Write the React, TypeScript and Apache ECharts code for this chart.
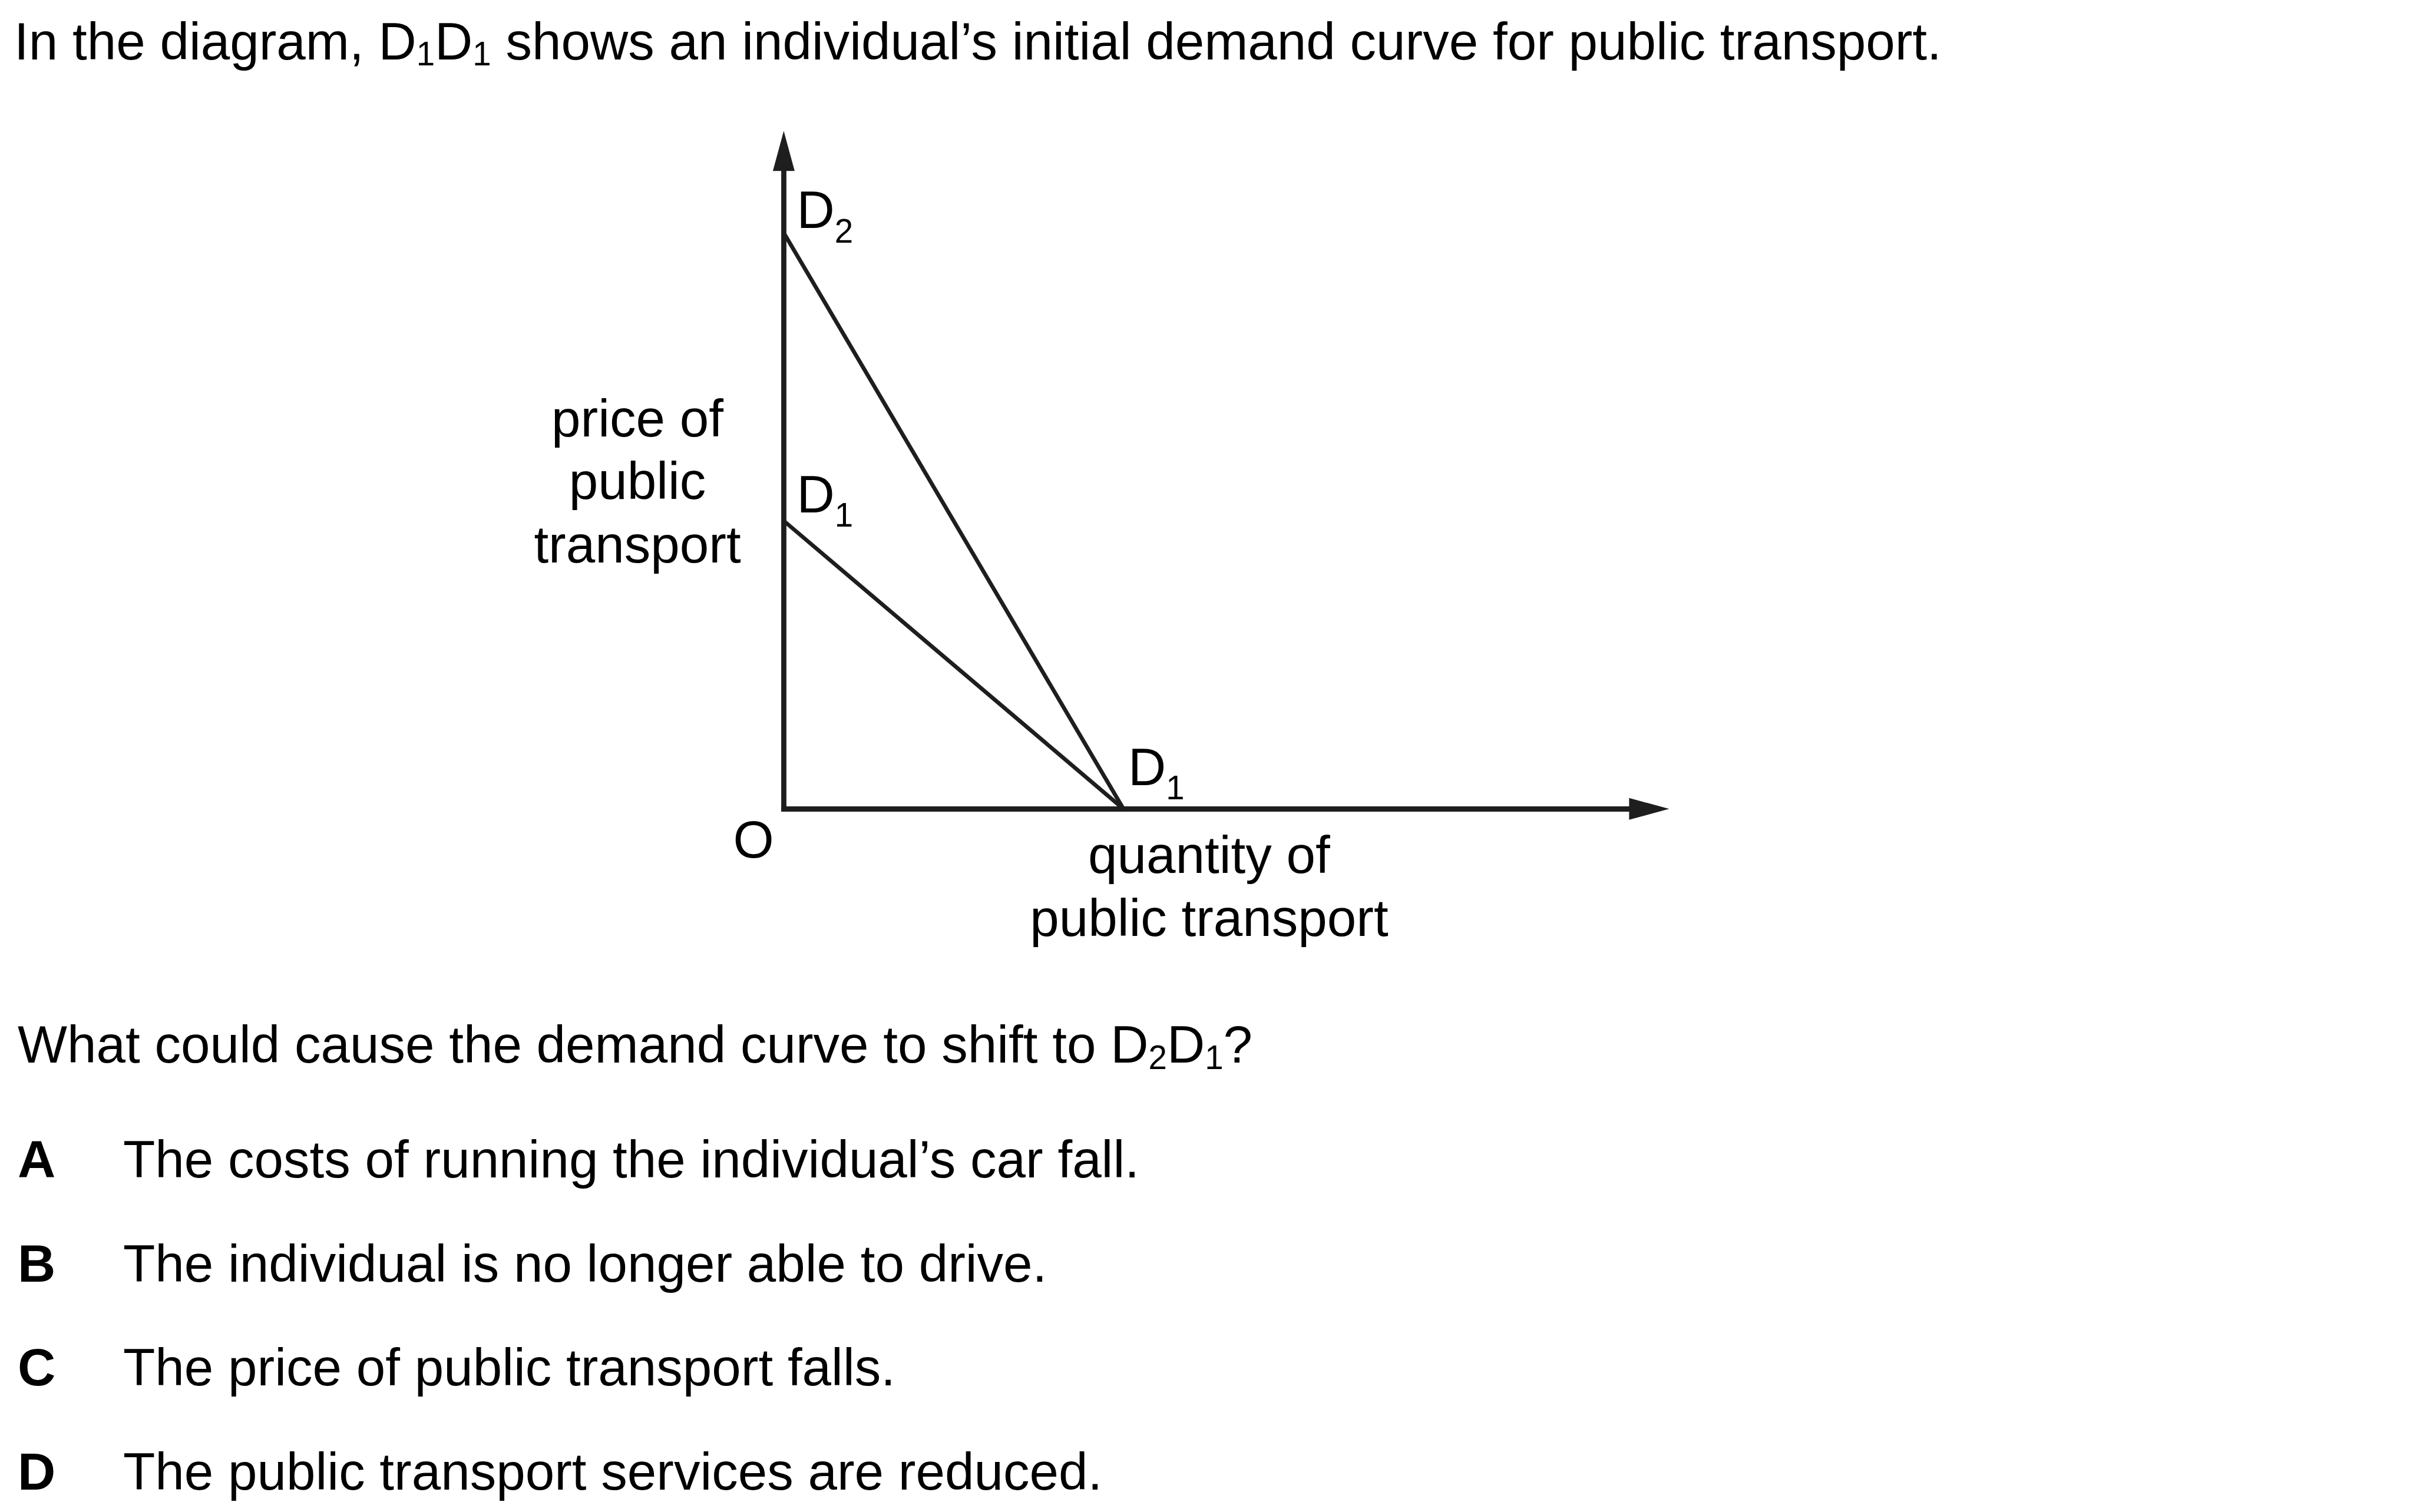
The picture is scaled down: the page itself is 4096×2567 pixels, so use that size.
import React, { useEffect, useRef } from "react";
import * as echarts from "echarts";

// ---- data ----
const d1Quantities = [0, 4];
const d1Prices = [5, 0];
const d2Quantities = [0, 4];
const d2Prices = [10, 0];
const xAxisMax = 10.19;
const yAxisMax = 11.42;

const titleParts = ["In the diagram, D", "1", "D", "1", " shows an individual\u2019s initial demand curve for public transport."];
const questionParts = ["What could cause the demand curve to shift to D", "2", "D", "1", "?"];
const optionLetters = ["A", "B", "C", "D"];
const optionTexts = [
  "The costs of running the individual\u2019s car fall.",
  "The individual is no longer able to drive.",
  "The price of public transport falls.",
  "The public transport services are reduced.",
];
const yAxisNameLines = ["price of", "public", "transport"];
const xAxisNameLines = ["quantity of", "public transport"];
const originLabel = "O";
const curveLabelMain = ["D", "D", "D"];
const curveLabelSub = ["2", "1", "1"];
const curveLabelAnchor = [
  [0, 10],
  [0, 5],
  [4, 0],
];

// ---- layout / style (scaled 0.975) ----
const W = 4096;
const H = 2567;
const FONT = "'Liberation Sans', Arial, Helvetica, sans-serif";
const F = 89;
const SF = 56.5;
const ASC = 0.3465;
const INK = "#000";
const LINE = "#1e1e1e";
const curveLabelOffset = [
  [22, -8],
  [22, -14.6],
  [8, -40.5],
];

function plainText(x: number, baseline: number, text: string, align = "left", weight = "normal") {
  return {
    type: "text",
    x,
    y: baseline - ASC * F,
    silent: true,
    style: {
      text,
      font: `${weight} ${F}px ${FONT}`,
      fill: INK,
      align,
      verticalAlign: "middle",
    },
  };
}

// subscript centre sits `drop` px below the main glyph centre
function richText(x: number, baseline: number, parts: string[], kind: "inline" | "label") {
  const centreGap = kind === "inline" ? 21.9 : 35.6;
  const padTop = F / 2 + centreGap - SF / 2;
  const text = parts.map((p, i) => (i % 2 === 0 ? `{n|${p}}` : `{s|${p}}`)).join("");
  return {
    type: "text",
    x,
    y: baseline - (F / 2 + ASC * F),
    silent: true,
    style: {
      text,
      align: "left",
      verticalAlign: "top",
      fill: INK,
      font: `${F}px ${FONT}`,
      rich: {
        n: { fontSize: F, fontFamily: FONT, lineHeight: F, verticalAlign: "top", fill: INK },
        s: {
          fontSize: SF,
          fontFamily: FONT,
          lineHeight: SF,
          verticalAlign: "top",
          padding: [padTop, 0, 0, 0],
          fill: INK,
        },
      },
    },
  };
}

export default function App() {
  const ref = useRef<HTMLDivElement>(null);

  useEffect(() => {
    if (!ref.current) return;
    const chart = echarts.init(ref.current, null, { renderer: "svg", width: W, height: H });

    const axisCommon = {
      type: "value",
      min: 0,
      splitLine: { show: false },
      axisTick: { show: false },
      axisLabel: { show: false },
      axisLine: {
        show: true,
        symbol: ["none", "triangle"],
        symbolSize: [37, 68],
        lineStyle: { color: LINE, width: 8.8, cap: "square" },
      },
    };

    chart.setOption({
      animation: false,
      backgroundColor: "#fff",
      grid: {
        left: 1330.4,
        right: W - 2799.4,
        top: 256.3,
        bottom: H - 1373.3,
        containLabel: false,
        outerBoundsMode: "none",
      },
      xAxis: { ...axisCommon, max: xAxisMax },
      yAxis: { ...axisCommon, max: yAxisMax },
      series: [
        {
          type: "line",
          data: d2Quantities.map((q, i) => [q, d2Prices[i]]),
          symbol: "none",
          clip: false,
          lineStyle: { color: LINE, width: 6.8 },
          z: 1,
        },
        {
          type: "line",
          data: d1Quantities.map((q, i) => [q, d1Prices[i]]),
          symbol: "none",
          clip: false,
          lineStyle: { color: LINE, width: 6.8 },
          z: 1,
        },
      ],
    });

    const graphics: any[] = [];
    graphics.push(richText(24, 100.4, titleParts, "inline"));

    const yNameBaselines = [741, 847.3, 954.5];
    yAxisNameLines.forEach((t, i) => graphics.push(plainText(1082, yNameBaselines[i], t, "center")));
    const xNameBaselines = [1482, 1589.2];
    xAxisNameLines.forEach((t, i) => graphics.push(plainText(2052.4, xNameBaselines[i], t, "center")));
    graphics.push(plainText(1279.2, 1455.7, originLabel, "center"));

    curveLabelAnchor.forEach((pt, i) => {
      const px = chart.convertToPixel({ gridIndex: 0 }, pt) as number[];
      graphics.push(
        richText(px[0] + curveLabelOffset[i][0], px[1] + curveLabelOffset[i][1], [curveLabelMain[i], curveLabelSub[i]], "label")
      );
    });

    graphics.push(richText(30, 1804, questionParts, "inline"));

    const optBase = 1999;
    const optStep = 176.5;
    optionLetters.forEach((l, i) => {
      graphics.push(plainText(30, optBase + i * optStep, l, "left", "bold"));
      graphics.push(plainText(209, optBase + i * optStep, optionTexts[i], "left"));
    });

    chart.setOption({ graphic: { elements: graphics } });

    return () => chart.dispose();
  }, []);

  return (
    <div
      ref={ref}
      style={{ position: "fixed", left: 0, top: 0, width: W, height: H, background: "#fff" }}
    />
  );
}
